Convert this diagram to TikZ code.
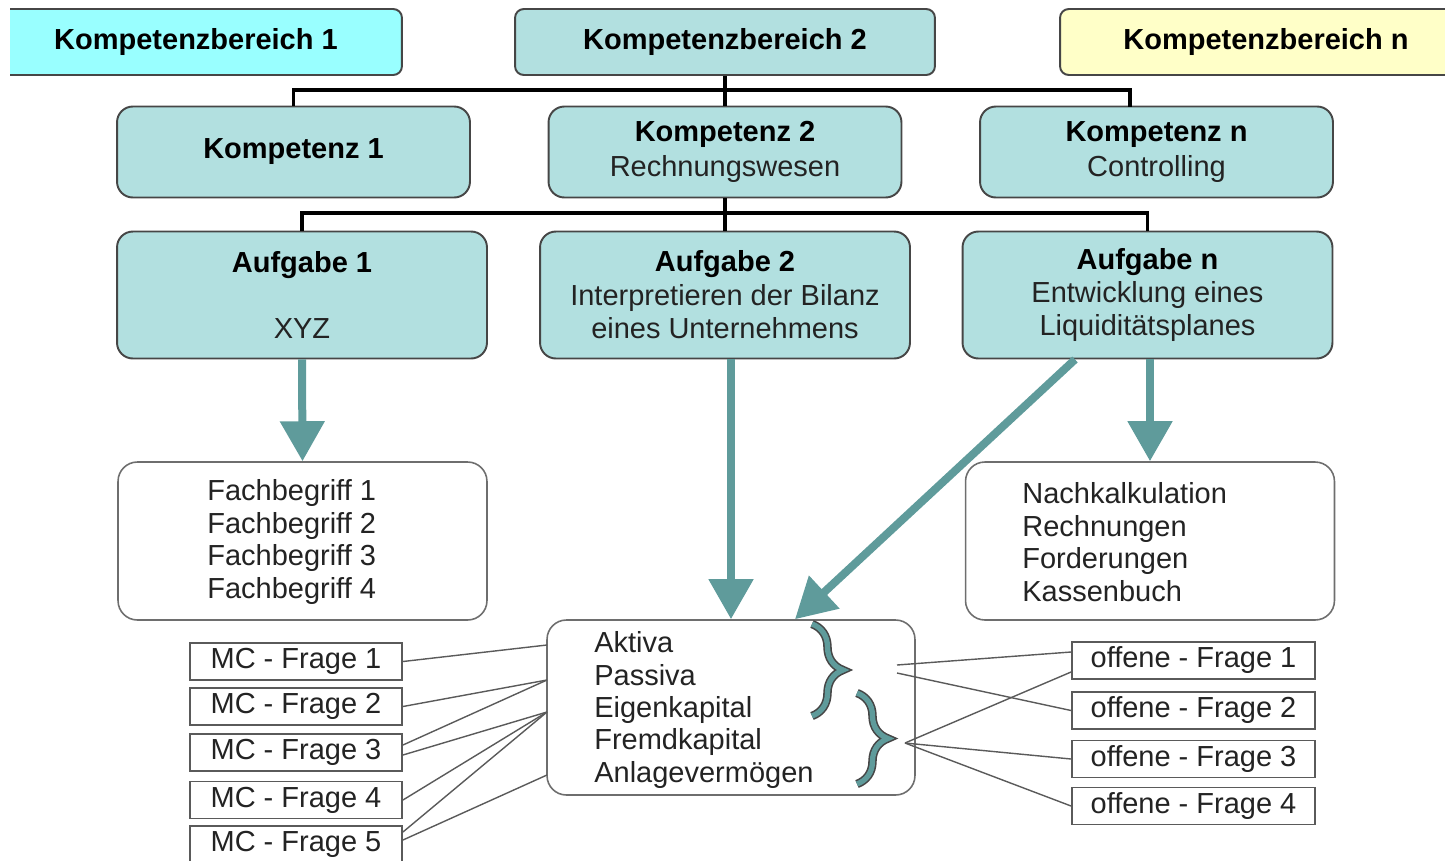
\documentclass[tikz,border=0pt]{standalone}
\usepackage{fontspec}
\setmainfont{Liberation Sans}
\usetikzlibrary{arrows.meta,decorations.pathreplacing}
\definecolor{kbcyan}{RGB}{153,255,255}
\definecolor{kbteal}{RGB}{178,224,224}
\definecolor{kbyellow}{RGB}{255,255,200}
\definecolor{arrowteal}{RGB}{95,155,155}
\definecolor{bordergray}{RGB}{70,70,70}
\definecolor{lightborder}{RGB}{110,110,110}
\definecolor{txtgray}{RGB}{35,35,35}
\definecolor{linegray}{RGB}{90,90,90}
\begin{document}
\begin{tikzpicture}[x=0.02cm,y=-0.02cm,
  hdr/.style={draw=bordergray, line width=1.1pt, rounded corners=5pt, inner sep=0pt,
    minimum height=1.32cm, font=\fontsize{16.5}{19}\selectfont\bfseries},
  komp/.style={draw=bordergray, fill=kbteal, line width=1.1pt, rounded corners=9pt, inner sep=0pt,
    minimum width=7.06cm, minimum height=1.82cm, align=center, text=txtgray,
    font=\fontsize{16.5}{20}\selectfont},
  aufg/.style={komp, minimum width=7.4cm, minimum height=2.54cm, font=\fontsize{16.5}{19}\selectfont},
  whitebox/.style={draw=lightborder, line width=0.9pt, rounded corners=11pt, fill=white, inner sep=0pt,
    minimum width=7.38cm, minimum height=3.16cm},
  listtxt/.style={anchor=west, align=left, inner sep=0pt, text=txtgray, font=\fontsize{16.5}{18.5}\selectfont},
  qbox/.style={draw=linegray, line width=1.1pt, fill=white, inner sep=0pt, minimum height=0.74cm,
    text=txtgray, font=\fontsize{16.5}{19}\selectfont},
  tree/.style={line width=1.8pt, black},
  bigarrow/.style={draw=arrowteal, line width=0.16cm, -{Triangle[width=0.86cm,length=0.8cm]}},
  thinline/.style={draw=linegray, line width=0.8pt},
  bracedark/.style={decorate, decoration={brace, amplitude=0.62cm}, draw=bordergray, line width=4.8pt},
  braceteal/.style={decorate, decoration={brace, amplitude=0.62cm}, draw=arrowteal, line width=3pt}
]
\useasboundingbox (0,0) rectangle (1445,860);
\clip (0,0) rectangle (1445,860);

% top row
\begin{scope}
\clip (10,0) rectangle (500,100);
\node[hdr, fill=kbcyan, minimum width=8.24cm] (kb1) at (196,42) {Kompetenzbereich 1};
\end{scope}
\node[hdr, fill=kbteal, minimum width=8.4cm] (kb2) at (725,42) {Kompetenzbereich 2};
\node[hdr, fill=kbyellow, minimum width=8.24cm] (kbn) at (1266,42) {Kompetenzbereich n};

% Kompetenzen
\node[komp] (k1) at (293.5,152) {\textbf{\color{black}Kompetenz 1}};
\node[komp] (k2) at (725,152) {\textbf{\color{black}Kompetenz 2}\\Rechnungswesen};
\node[komp] (kn) at (1156.5,152) {\textbf{\color{black}Kompetenz n}\\Controlling};

% Aufgaben
\node[aufg] (a1) at (302,295) {\textbf{\color{black}Aufgabe 1}\\ \strut\\ XYZ};
\node[aufg] (a2) at (725,295) {\textbf{\color{black}Aufgabe 2}\\Interpretieren der Bilanz\\eines Unternehmens};
\node[aufg] (an) at (1147.5,295) {\textbf{\color{black}Aufgabe n}\\Entwicklung eines\\Liquiditätsplanes};

% tree connectors
\coordinate (j1) at (725,90);
\coordinate (j1n) at (1130,107);
\draw[tree] (kb2.south) -- (j1);
\draw[tree] (k1.north) |- (j1) -| (j1n);
\draw[tree] (j1) -- (k2.north);
\coordinate (j2) at (725,213);
\draw[tree] (k2.south) -- (j2);
\draw[tree] (a1.north) |- (j2) -| (an.north);
\draw[tree] (j2) -- (a2.north);

% lower boxes
\node[whitebox] (fach) at (302.5,541) {};
\node[listtxt] (fachtxt) at (207,542) {Fachbegriff 1\\Fachbegriff 2\\Fachbegriff 3\\Fachbegriff 4};
\node[whitebox] (nach) at (1150,541) {};
\node[listtxt] (nachtxt) at (1022,542) {Nachkalkulation\\Rechnungen\\Forderungen\\Kassenbuch};
\node[whitebox, minimum width=7.36cm, minimum height=3.5cm] (mid) at (731,707.5) {};
\node[listtxt, font=\fontsize{16.5}{18.4}\selectfont] (midtxt) at (594,710) {Aktiva\\Passiva\\Eigenkapital\\Fremdkapital\\Anlagevermögen};

% big arrows
\draw[bigarrow] (a1.south) -- (fach.north);
\draw[bigarrow] (a2.south -| mid.north) -- (mid.north);
\draw[bigarrow] ([xshift=-1.45cm]an.south) -- ([xshift=1.28cm]mid.north);
\draw[bigarrow] (an.south -| nach.north) -- (nach.north);

% braces
\draw[bracedark] (812,624) -- (812,716);
\draw[braceteal] (812,624) -- (812,716);
\draw[bracedark] (857,693) -- (857,784);
\draw[braceteal] (857,693) -- (857,784);

% MC questions
\node[qbox, minimum width=4.24cm] (mc1) at (296,661.5) {MC - Frage 1};
\node[qbox, minimum width=4.24cm] (mc2) at (296,706.5) {MC - Frage 2};
\node[qbox, minimum width=4.24cm] (mc3) at (296,752.5) {MC - Frage 3};
\node[qbox, minimum width=4.24cm] (mc4) at (296,800) {MC - Frage 4};
\node[qbox, minimum width=4.24cm] (mc5) at (296,844.5) {MC - Frage 5};

\coordinate (ml1) at (547,645);
\coordinate (ml2) at (547,680);
\coordinate (ml3) at (547,712);
\coordinate (ml4) at (547,775);
\draw[thinline] (mc1.east) -- (ml1);
\draw[thinline] (mc2.east) -- (ml2);
\draw[thinline] ([yshift=0.15cm]mc3.east) -- (ml2);
\draw[thinline] ([yshift=-0.05cm]mc3.east) -- (ml3);
\draw[thinline] (mc4.east) -- (ml3);
\draw[thinline] ([yshift=0.25cm]mc5.east) -- (ml3);
\draw[thinline] ([yshift=0.09cm]mc5.east) -- (ml4);

% open questions
\node[qbox, minimum width=4.86cm] (of1) at (1193.5,660.5) {offene - Frage 1};
\node[qbox, minimum width=4.86cm] (of2) at (1193.5,710.5) {offene - Frage 2};
\node[qbox, minimum width=4.86cm] (of3) at (1193.5,759) {offene - Frage 3};
\node[qbox, minimum width=4.86cm] (of4) at (1193.5,806) {offene - Frage 4};

\coordinate (r1) at (897,665);
\coordinate (r2) at (897,673);
\coordinate (r3) at (905,743);
\draw[thinline] (r1) -- ([yshift=0.17cm]of1.west);
\draw[thinline] (r2) -- (of2.west);
\draw[thinline] (r3) -- ([yshift=-0.23cm]of1.west);
\draw[thinline] (r3) -- (of3.west);
\draw[thinline] (r3) -- (of4.west);
\end{tikzpicture}
\end{document}
